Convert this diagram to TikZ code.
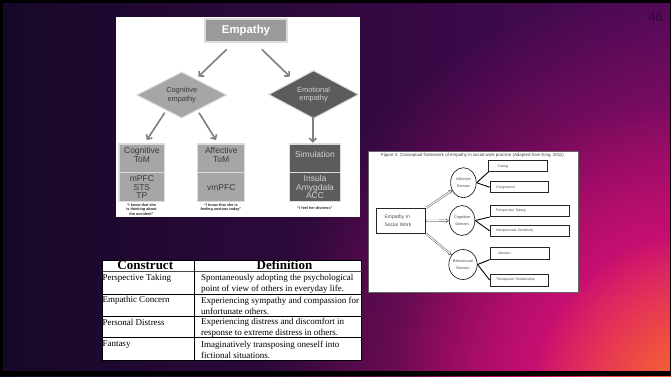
\documentclass[tikz,border=0pt]{standalone}
\usepackage{fontspec}
\setmainfont{Liberation Serif}
\newfontfamily\sans{Liberation Sans}
\usetikzlibrary{shapes.geometric,arrows.meta,fadings}
\definecolor{bgL}{HTML}{160828}
\definecolor{bgM}{HTML}{300842}
\definecolor{bgR}{HTML}{4A0A56}
\definecolor{pinkc}{HTML}{E8107A}
\definecolor{orangec}{HTML}{F77A1C}
\definecolor{numc}{HTML}{2A0738}
\definecolor{empgray}{HTML}{9A9A9A}
\definecolor{edgec}{HTML}{DCDCDC}
\definecolor{boxgray}{HTML}{A6A6A6}
\definecolor{boxtext}{HTML}{3A3A3A}
\definecolor{darkbox}{HTML}{5C5C5C}
\definecolor{darktext}{HTML}{D0D0D0}
\definecolor{arrgray}{HTML}{7F7F7F}
\tikzfading[name=radfade, inner color=transparent!0, outer color=transparent!100]
\tikzset{
  empbox/.style={rectangle, fill=empgray, draw=edgec, line width=1.2pt, minimum width=82pt, minimum height=23pt, inner sep=0pt, text=white, font=\sans\bfseries\fontsize{11.4}{12}\selectfont},
  dia/.style={diamond, draw=edgec, line width=1pt, minimum width=90pt, minimum height=39pt, inner sep=0pt, align=center, font=\sans\fontsize{7.4}{8.3}\selectfont},
  gbox/.style={rectangle, draw=edgec, line width=1.2pt, inner sep=0pt, align=center, font=\sans\fontsize{8.5}{8.3}\selectfont},
  lightf/.style={fill=boxgray, text=boxtext},
  darkf/.style={fill=darkbox, text=darktext},
  arr/.style={draw=arrgray, line width=1.6pt, -{Straight Barb[length=3.5pt,width=7pt]}},
  quote/.style={font=\sans\bfseries\fontsize{3.8}{4.2}\selectfont, align=center, text=black!85, inner sep=0pt},
  thead/.style={font=\bfseries\fontsize{13}{14}\selectfont, anchor=base, inner sep=0pt},
  tcell/.style={font=\fontsize{9}{10.7}\selectfont, anchor=west, align=left, inner sep=0pt},
  tline/.style={draw=black, line width=0.6pt},
  sbox/.style={rectangle, draw=black!85, line width=0.7pt, inner sep=0pt, inner xsep=6pt, font=\sans\fontsize{3.5}{4.5}\selectfont, text=black!70, align=left},
  dom/.style={ellipse, draw=black!85, line width=0.7pt, minimum width=25.6pt, minimum height=30pt, inner sep=0pt, font=\sans\fontsize{3.8}{7}\selectfont, text=black!70, align=center},
  dbl/.style={draw=black!75, line width=0.4pt, double=white, double distance=1.1pt, -{Implies}},
  conn/.style={draw=black, line width=0.9pt}
}
\begin{document}
\begin{tikzpicture}[x=1pt,y=-1pt]
\useasboundingbox (0,0) rectangle (671,376);
% background
\shade[left color=bgL, middle color=bgM, right color=bgR] (0,0) rectangle (671,376);
\begin{scope}
  \clip (0,0) rectangle (671,376);
  \fill[pinkc, path fading=radfade] (690,400) circle (420);
  \fill[pinkc, path fading=radfade] (690,400) circle (300);
  \fill[orangec, path fading=radfade] (700,400) circle (170);
\end{scope}
\fill[black] (0,0) rectangle (671,3);
\fill[black] (0,0) rectangle (3,376);
\fill[black] (0,371) rectangle (671,376);
\fill[black] (669.5,0) rectangle (671,376);
\node[font=\sans\fontsize{13}{13}\selectfont, text=numc] (pg) at (655.5,17.5) {46};

% ---------- left figure ----------
\fill[white] (116,17) rectangle (360,217);
\node[empbox] (emp) at (246,30.5) {Empathy};
\node[dia, fill=boxgray, text=boxtext] (cog) at (181.7,95) {Cognitive\\empathy};
\node[dia, fill=darkbox, text=darktext] (emo) at (313.6,94.5) {Emotional\\empathy};

\node[gbox, lightf, minimum width=45.7pt, minimum height=28.7pt] (ctom) at (141.85,158.35) {Cognitive\\ToM\\[-1.3pt]};
\node[gbox, lightf, minimum width=45.7pt, minimum height=29pt] (cbr) at (141.85,187.2) {mPFC\\STS\\TP};
\node[gbox, lightf, minimum width=47.1pt, minimum height=28.7pt] (atom) at (221.25,158.35) {Affective\\ToM\\[-1.3pt]};
\node[gbox, lightf, minimum width=47.1pt, minimum height=29pt] (abr) at (221.25,187.2) {vmPFC};
\node[gbox, darkf, minimum width=50.5pt, minimum height=28.7pt] (sim) at (315,158.35) {Simulation\\[-0.5pt]};
\node[gbox, darkf, minimum width=50.5pt, minimum height=29pt] (ebr) at (315,187.2) {Insula\\Amygdala\\ACC};

\draw[arr] ([shift={(-19.3,18.8)}]emp.center) -- ([shift={(16.6,-18.3)}]cog.center);
\draw[arr] ([shift={(15.7,18.8)}]emp.center) -- ([shift={(-23.6,-17.8)}]emo.center);
\draw[arr] ([shift={(-17,17.7)}]cog.center) -- ([shift={(5,-18.35)}]ctom.center);
\draw[arr] ([shift={(17.3,17.7)}]cog.center) -- ([shift={(-5.25,-18.35)}]atom.center);
\draw[arr] ([shift={(-0.8,21.5)}]emo.center) -- ([shift={(-2.2,-15.65)}]sim.center);

\node[quote] (q1) at (141.5,209.5) {“I know that she\\is thinking about\\the accident”};
\node[quote] (q2) at (221,207.5) {“I know that she is\\feeling anxious today”};
\node[quote] (q3) at (315,208) {“I feel her distress”};

% ---------- table ----------
\fill[white] (102.7,260) rectangle (361.6,360);
\begin{scope}
  \clip (102.7,260) rectangle (361.6,360);
  \node[thead] (hc) at (145.3,269.5) {Construct};
  \node[thead] (hd) at (284.5,269.5) {Definition};
  \node[tcell] (r1a) at (102.3,278.7) {Perspective Taking};
  \node[tcell] (r1b) at (201,284) {Spontaneously adopting the psychological\\point of view of others in everyday life.};
  \node[tcell] (r2a) at (102.3,300.3) {Empathic Concern};
  \node[tcell] (r2b) at (201,305.6) {Experiencing sympathy and compassion for\\unfortunate others.};
  \node[tcell] (r3a) at (102.3,322.3) {Personal Distress};
  \node[tcell] (r3b) at (201,327.6) {Experiencing distress and discomfort in\\response to extreme distress in others.};
  \node[tcell] (r4a) at (102.3,344.3) {Fantasy};
  \node[tcell] (r4b) at (201,349.6) {Imaginatively transposing oneself into\\fictional situations.};
\end{scope}
\draw[tline] (102.7,260) rectangle (361.6,360);
\draw[draw=black!70, line width=1.2pt] (102.7,271.7) -- (361.6,271.7);
\draw[tline] (102.7,294.3) -- (361.6,294.3);
\draw[tline] (102.7,316) -- (361.6,316);
\draw[tline] (102.7,337.7) -- (361.6,337.7);
\draw[tline] (194.7,260) -- (194.7,360);

% ---------- right figure ----------
\fill[white, draw=black!60, line width=0.8pt] (368,151.7) rectangle (578.5,292.3);
\node[font=\sans\fontsize{4.4}{5}\selectfont, text=black!75, inner sep=0pt] (ttl) at (472.5,155.6) {Figure 2: Conceptual framework of empathy in social work practice (Adapted from King, 2011)};
\node[rectangle, draw=black!85, line width=0.7pt, minimum width=49.3pt, minimum height=25pt, inner sep=0pt, inner xsep=8pt, text width=33.3pt, align=left, font=\sans\fontsize{5}{7.6}\selectfont, text=black!70] (emp2) at (401.15,220.8) {Empathy in\\Social Work};
\node[dom] (aff) at (463.4,182.7) {Affective\\Domain};
\node[dom] (cog2) at (462.1,220.5) {Cognitive\\Domain};
\node[dom] (beh) at (463,264.5) {Behavioural\\Domain};
\node[sbox, text width=46.2pt, minimum height=11pt] (car) at (517.8,166.2) {\hspace*{3pt}Caring};
\node[sbox, text width=46.6pt, minimum height=11pt] (con) at (519.3,187.2) {Congruence};
\node[sbox, text width=67pt, minimum height=11.7pt] (per) at (529.5,210.85) {Perspective Taking};
\node[sbox, text width=67pt, minimum height=11.7pt] (int) at (529.5,230.85) {Interpersonal Sensitivity};
\node[sbox, text width=47pt, minimum height=12pt] (alt) at (519.5,253.3) {\hspace*{2pt}Altruism};
\node[sbox, text width=46.6pt, minimum height=12pt] (the) at (519.3,280) {Therapeutic Relationship};

\draw[dbl] (emp2.north east) -- (aff);
\draw[dbl] (emp2.east) -- (cog2);
\draw[dbl] (emp2.south east) -- (beh);
\draw[conn] (aff.east) -- (car.south west);
\draw[conn] (aff.east) -- (con.west);
\draw[conn] (cog2.east) -- (per.south west);
\draw[conn] (cog2.east) -- (int.west);
\draw[conn] (beh.east) -- (alt.south west);
\draw[conn] (beh.east) -- (the.west);
\end{tikzpicture}
\end{document}
